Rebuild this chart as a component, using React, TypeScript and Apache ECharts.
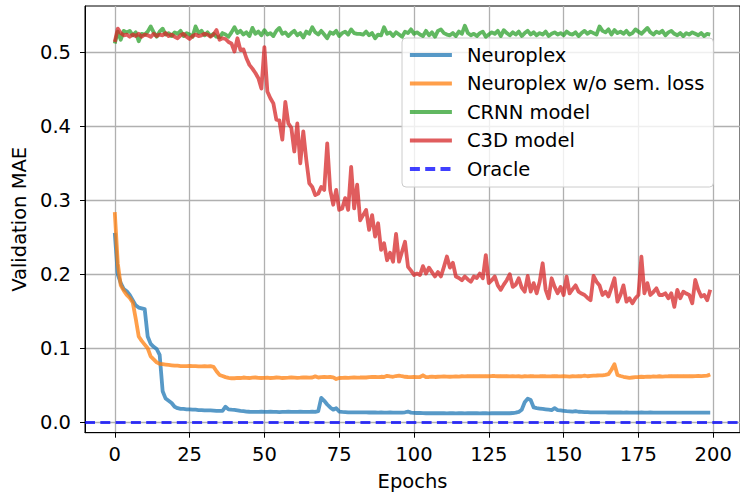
import React, { useEffect, useRef } from "react";
import * as echarts from "echarts";

// Validation MAE per epoch (epoch = array index)
const neuroplex = [
  0.256, 0.200, 0.188, 0.180, 0.177, 0.172, 0.165, 0.158, 0.155, 0.154,
  0.153, 0.116, 0.106, 0.102, 0.099, 0.091, 0.042, 0.032, 0.029, 0.026,
  0.021, 0.019, 0.018, 0.018, 0.0175, 0.0175, 0.017, 0.017, 0.0165, 0.0165,
  0.016, 0.016, 0.016, 0.0158, 0.0155, 0.0155, 0.0155, 0.021, 0.0175, 0.017,
  0.0168, 0.0162, 0.0155, 0.015, 0.0145, 0.0142, 0.014, 0.014, 0.014, 0.0142,
  0.014, 0.014, 0.0142, 0.014, 0.014, 0.0138, 0.014, 0.014, 0.0142, 0.014,
  0.014, 0.014, 0.0142, 0.014, 0.014, 0.014, 0.0142, 0.014, 0.015, 0.033,
  0.029, 0.024, 0.020, 0.017, 0.019, 0.0145, 0.014, 0.0138, 0.0135, 0.0135,
  0.0135, 0.0135, 0.0133, 0.0135, 0.0133, 0.0132, 0.0133, 0.0132, 0.013, 0.0132,
  0.013, 0.013, 0.0132, 0.013, 0.013, 0.013, 0.013, 0.0135, 0.0145, 0.013,
  0.0128, 0.0125, 0.0125, 0.0123, 0.0122, 0.0122, 0.0122, 0.0122, 0.0122, 0.0122,
  0.0122, 0.012, 0.0122, 0.0122, 0.012, 0.0122, 0.0122, 0.012, 0.0122, 0.0122,
  0.0122, 0.0122, 0.012, 0.0122, 0.0122, 0.012, 0.0122, 0.0122, 0.0122, 0.0122,
  0.0122, 0.0122, 0.0122, 0.0125, 0.013, 0.014, 0.017, 0.027, 0.032, 0.030,
  0.020, 0.019, 0.0185, 0.018, 0.0175, 0.017, 0.0165, 0.019, 0.0165, 0.016,
  0.0155, 0.015, 0.0148, 0.0145, 0.015, 0.0142, 0.014, 0.0138, 0.0138, 0.0135,
  0.0135, 0.0133, 0.0135, 0.0133, 0.0133, 0.0132, 0.0133, 0.0132, 0.0132, 0.0132,
  0.013, 0.0132, 0.013, 0.013, 0.013, 0.013, 0.0132, 0.013, 0.013, 0.0132,
  0.013, 0.013, 0.013, 0.013, 0.013, 0.013, 0.013, 0.013, 0.013, 0.013,
  0.013, 0.013, 0.013, 0.013, 0.013, 0.013, 0.013, 0.013, 0.013, 0.013,
];

const neuroplexNoSem = [
  0.284, 0.215, 0.185, 0.178, 0.172, 0.168, 0.162, 0.140, 0.116, 0.110,
  0.105, 0.100, 0.089, 0.085, 0.081, 0.079, 0.0785, 0.078, 0.0775, 0.077,
  0.0765, 0.0765, 0.076, 0.076, 0.076, 0.0762, 0.0758, 0.0758, 0.0755, 0.0755,
  0.0758, 0.0755, 0.0758, 0.075, 0.069, 0.064, 0.0625, 0.061, 0.060, 0.0595,
  0.0595, 0.060, 0.0598, 0.0605, 0.060, 0.0598, 0.0602, 0.0605, 0.060, 0.0598,
  0.060, 0.0603, 0.0598, 0.060, 0.0605, 0.0603, 0.0598, 0.060, 0.0602, 0.0605,
  0.0603, 0.060, 0.0602, 0.0605, 0.0605, 0.0603, 0.0605, 0.062, 0.0605, 0.061,
  0.0612, 0.061, 0.0612, 0.0608, 0.0585, 0.0598, 0.060, 0.0602, 0.060, 0.0603,
  0.0605, 0.0603, 0.0605, 0.0608, 0.0605, 0.061, 0.0612, 0.0612, 0.061, 0.0615,
  0.0612, 0.0628, 0.062, 0.0615, 0.0625, 0.063, 0.0622, 0.0615, 0.0612, 0.061,
  0.0612, 0.061, 0.0612, 0.0635, 0.061, 0.0612, 0.0618, 0.0612, 0.0615, 0.0618,
  0.062, 0.0618, 0.0615, 0.0618, 0.062, 0.0618, 0.0622, 0.062, 0.0625, 0.0622,
  0.0625, 0.0622, 0.0625, 0.0622, 0.0625, 0.0622, 0.0625, 0.0625, 0.0622, 0.0625,
  0.0622, 0.0625, 0.062, 0.0622, 0.062, 0.0622, 0.0618, 0.0622, 0.062, 0.0625,
  0.0622, 0.062, 0.0622, 0.0625, 0.0622, 0.062, 0.0622, 0.0625, 0.0622, 0.062,
  0.0622, 0.062, 0.0618, 0.0622, 0.062, 0.0625, 0.0622, 0.063, 0.0622, 0.0628,
  0.063, 0.0632, 0.0635, 0.0635, 0.064, 0.065, 0.071, 0.0785, 0.064, 0.0625,
  0.0615, 0.0608, 0.060, 0.0605, 0.061, 0.0612, 0.0615, 0.0612, 0.0618, 0.0615,
  0.062, 0.0618, 0.0622, 0.0618, 0.062, 0.0622, 0.0625, 0.0622, 0.0625, 0.0622,
  0.0625, 0.0622, 0.0625, 0.0622, 0.0625, 0.0628, 0.0625, 0.0628, 0.063, 0.0645,
];

const crnn = [
  0.512, 0.528, 0.517, 0.529, 0.527, 0.529, 0.523, 0.527, 0.515, 0.525,
  0.524, 0.528, 0.535, 0.527, 0.521, 0.528, 0.532, 0.524, 0.526, 0.522,
  0.527, 0.525, 0.529, 0.522, 0.526, 0.524, 0.521, 0.535, 0.526, 0.529,
  0.523, 0.527, 0.522, 0.525, 0.521, 0.520, 0.526, 0.524, 0.521, 0.527,
  0.534, 0.526, 0.529, 0.524, 0.527, 0.522, 0.533, 0.525, 0.528, 0.523,
  0.530, 0.524, 0.526, 0.522, 0.529, 0.533, 0.525, 0.527, 0.522, 0.526,
  0.529, 0.523, 0.526, 0.520, 0.528, 0.525, 0.534, 0.527, 0.524, 0.529,
  0.524, 0.519, 0.527, 0.525, 0.529, 0.522, 0.526, 0.528, 0.524, 0.531,
  0.526, 0.525, 0.525, 0.524, 0.528, 0.523, 0.526, 0.519, 0.524, 0.523,
  0.534, 0.525, 0.527, 0.522, 0.527, 0.524, 0.521, 0.528, 0.526, 0.531,
  0.525, 0.527, 0.524, 0.522, 0.529, 0.523, 0.527, 0.521, 0.529, 0.531,
  0.526, 0.524, 0.523, 0.526, 0.522, 0.528, 0.525, 0.536, 0.526, 0.523,
  0.525, 0.522, 0.526, 0.528, 0.521, 0.524, 0.527, 0.525, 0.529, 0.522,
  0.530, 0.526, 0.523, 0.527, 0.524, 0.528, 0.522, 0.526, 0.529, 0.524,
  0.527, 0.523, 0.526, 0.524, 0.528, 0.522, 0.525, 0.527, 0.524, 0.526,
  0.523, 0.528, 0.525, 0.524, 0.527, 0.522, 0.526, 0.529, 0.525, 0.528,
  0.526, 0.524, 0.535, 0.529, 0.527, 0.531, 0.524, 0.530, 0.526, 0.528,
  0.525, 0.529, 0.524, 0.526, 0.531, 0.528, 0.525, 0.529, 0.533, 0.527,
  0.524, 0.528, 0.526, 0.529, 0.523, 0.527, 0.529, 0.525, 0.523, 0.526,
  0.522, 0.526, 0.524, 0.527, 0.525, 0.523, 0.526, 0.522, 0.525, 0.524,
];

const c3d = [
  0.514, 0.532, 0.526, 0.523, 0.524, 0.521, 0.524, 0.522, 0.525, 0.521,
  0.524, 0.523, 0.521, 0.525, 0.522, 0.524, 0.523, 0.526, 0.522, 0.524,
  0.521, 0.519, 0.523, 0.525, 0.521, 0.518, 0.522, 0.524, 0.522, 0.523,
  0.525, 0.524, 0.521, 0.524, 0.530, 0.517, 0.519, 0.518, 0.514, 0.512,
  0.501, 0.519, 0.503, 0.504, 0.492, 0.483, 0.478, 0.472, 0.465, 0.451,
  0.507, 0.447, 0.438, 0.431, 0.409, 0.408, 0.382, 0.433, 0.404, 0.398,
  0.366, 0.404, 0.350, 0.393, 0.355, 0.323, 0.318, 0.307, 0.309, 0.318,
  0.314, 0.377, 0.314, 0.294, 0.314, 0.287, 0.289, 0.303, 0.287, 0.345,
  0.289, 0.321, 0.273, 0.280, 0.287, 0.260, 0.280, 0.251, 0.269, 0.233,
  0.242, 0.219, 0.229, 0.217, 0.2545, 0.217, 0.2305, 0.244, 0.210, 0.205,
  0.199, 0.201, 0.199, 0.211, 0.201, 0.209, 0.203, 0.197, 0.203, 0.197,
  0.210, 0.224, 0.209, 0.2155, 0.197, 0.195, 0.192, 0.197, 0.193, 0.190,
  0.197, 0.195, 0.201, 0.1945, 0.226, 0.188, 0.192, 0.197, 0.185, 0.179,
  0.186, 0.192, 0.200, 0.183, 0.186, 0.1946, 0.182, 0.1765, 0.1977, 0.1765,
  0.188, 0.1743, 0.190, 0.2149, 0.179, 0.1676, 0.1946, 0.183, 0.1743, 0.183,
  0.172, 0.1968, 0.1743, 0.180, 0.185, 0.1765, 0.174, 0.172, 0.168, 0.165,
  0.1977, 0.190, 0.185, 0.172, 0.1765, 0.170, 0.182, 0.1946, 0.163, 0.172,
  0.185, 0.163, 0.1676, 0.1608, 0.1676, 0.172, 0.2238, 0.1743, 0.188, 0.172,
  0.176, 0.181, 0.172, 0.172, 0.1743, 0.1676, 0.1743, 0.156, 0.179, 0.1676,
  0.1765, 0.174, 0.172, 0.1608, 0.1923, 0.179, 0.170, 0.172, 0.165, 0.179,
];

const oracleValue = 0.0046;

const xTicks = [0, 25, 50, 75, 100, 125, 150, 175, 200];
const yTicks = [0, 0.1, 0.2, 0.3, 0.4, 0.5];

const seriesNames = [
  "Neuroplex",
  "Neuroplex w/o sem. loss",
  "CRNN model",
  "C3D model",
  "Oracle",
];
const seriesColors = ["#1f77b4", "#ff7f0e", "#2ca02c", "#d62728", "#0000ff"];

const FONT = "DejaVu Sans";
const FS = 19.5;
const LW = 3.8;
const DASH = [10, 5.3];

const toPoints = (arr: number[]) => arr.map((v, i) => [i, v]);

export default function App() {
  const ref = useRef<HTMLDivElement>(null);

  useEffect(() => {
    if (!ref.current) return;
    const chart = echarts.init(ref.current, null, { renderer: "svg" });

    const lineSeries = [neuroplex, neuroplexNoSem, crnn, c3d].map((arr, i) => ({
      name: seriesNames[i],
      type: "line",
      data: toPoints(arr),
      symbol: "none",
      showSymbol: false,
      z: 3 + i,
      itemStyle: { color: seriesColors[i], opacity: 0.75 },
      lineStyle: {
        color: seriesColors[i],
        width: LW,
        opacity: 0.75,
        join: "round",
      },
    }));

    const oracleSeries = {
      name: seriesNames[4],
      type: "line",
      data: [],
      symbol: "none",
      z: 8,
      itemStyle: { color: seriesColors[4], opacity: 0.75 },
      lineStyle: { color: seriesColors[4], width: 3.2, opacity: 0.75, type: DASH },
      markLine: {
        silent: true,
        symbol: "none",
        label: { show: false },
        lineStyle: { color: seriesColors[4], width: 3.2, opacity: 0.75, type: DASH },
        data: [{ yAxis: oracleValue }],
      },
    };

    chart.setOption({
      animation: false,
      textStyle: { fontFamily: FONT },
      grid: {
        left: 85,
        top: 6,
        width: 657,
        height: 426.7,
        show: true,
        borderColor: "#000",
        borderWidth: 1,
        backgroundColor: "transparent",
      },
      xAxis: {
        type: "value",
        min: -9.95,
        max: 208.95,
        name: "Epochs",
        nameLocation: "middle",
        nameGap: 39,
        nameTextStyle: { fontSize: FS, color: "#000", fontFamily: FONT },
        axisLine: { show: true, onZero: false, lineStyle: { color: "#000", width: 1 } },
        axisTick: { show: true, length: 5, lineStyle: { color: "#000", width: 1 }, customValues: xTicks },
        axisLabel: { customValues: xTicks, fontSize: FS, color: "#000", margin: 12, fontFamily: FONT },
        splitLine: { show: true, lineStyle: { color: "#b0b0b0", width: 1.3 } },
      },
      yAxis: {
        type: "value",
        min: -0.0141,
        max: 0.5626,
        name: "Validation MAE",
        nameLocation: "middle",
        nameGap: 54,
        nameTextStyle: { fontSize: FS, color: "#000", fontFamily: FONT },
        axisLine: { show: true, onZero: false, lineStyle: { color: "#000", width: 1 } },
        axisTick: { show: true, length: 5, lineStyle: { color: "#000", width: 1 }, customValues: yTicks },
        axisLabel: {
          customValues: yTicks,
          fontSize: FS,
          color: "#000",
          margin: 14,
          fontFamily: FONT,
          formatter: (v: number) => v.toFixed(1),
        },
        splitLine: { show: true, lineStyle: { color: "#b0b0b0", width: 1.3 } },
      },
      legend: {
        orient: "vertical",
        left: 402,
        top: 38,
        itemWidth: 42,
        itemHeight: 14,
        itemGap: 8.5,
        padding: [7, 9, 8, 6],
        backgroundColor: "rgba(255,255,255,0.8)",
        borderColor: "#cccccc",
        borderWidth: 1,
        borderRadius: 4,
        itemStyle: { opacity: 0, borderWidth: 0 },
        lineStyle: { width: LW },
        textStyle: { fontSize: FS, color: "#000", fontFamily: FONT, padding: [0, 0, 0, 10] },
        data: seriesNames,
      },
      series: [...lineSeries, oracleSeries],
    });

    return () => chart.dispose();
  }, []);

  return (
    <div
      ref={ref}
      style={{ position: "absolute", left: 0, top: 0, width: 740, height: 497 }}
    />
  );
}
